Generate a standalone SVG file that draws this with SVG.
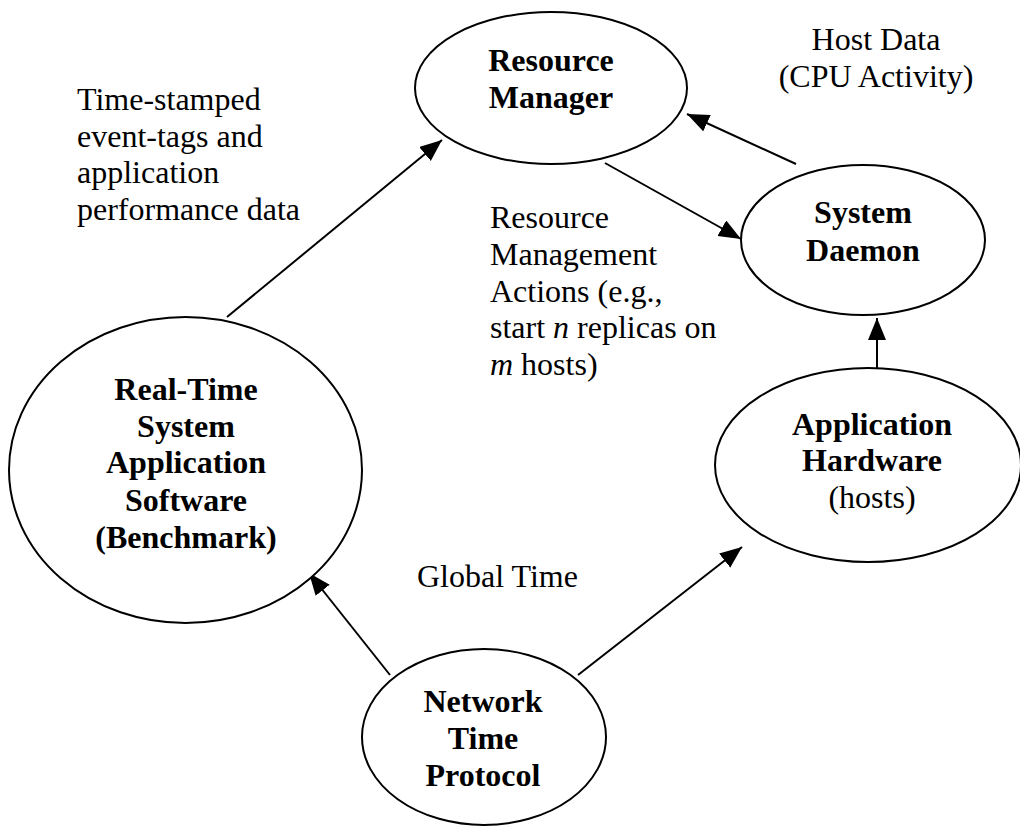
<svg xmlns="http://www.w3.org/2000/svg" width="1020" height="827" viewBox="0 0 1020 827">
  <style>
    .node { fill: #ffffff; stroke: #000000; stroke-width: 2; }
    .edge { stroke: #000000; stroke-width: 2; fill: none; marker-end: url(#arrow); }
    text { font-family: "Liberation Serif", "Times New Roman", serif; font-size: 32px; fill: #000000; }
    .title { font-weight: bold; text-anchor: middle; }
    .sub { text-anchor: middle; }
  </style>
  <defs>
    <marker id="arrow" markerUnits="userSpaceOnUse" markerWidth="24" markerHeight="20" refX="22" refY="9" orient="auto">
      <path d="M0,0 L22,9 L0,18 z" fill="#000000"/>
    </marker>
  </defs>
  <rect width="1020" height="827" fill="#ffffff"/>

  <!-- connectors -->
  <g id="connectors">
    <line class="edge" x1="227" y1="317" x2="442" y2="140"/>
    <line class="edge" x1="796" y1="164" x2="687" y2="114"/>
    <line class="edge" x1="605" y1="163" x2="741" y2="239"/>
    <line class="edge" x1="877" y1="368" x2="877" y2="318"/>
    <line class="edge" x1="390" y1="675" x2="309" y2="573"/>
    <line class="edge" x1="578" y1="675" x2="742" y2="547"/>
  </g>

  <!-- edge labels -->
  <g id="labels">
    <text x="77" y="110">Time-stamped</text>
    <text x="77" y="147">event-tags and</text>
    <text x="77" y="183">application</text>
    <text x="77" y="220">performance data</text>

    <text class="sub" x="876" y="50">Host Data</text>
    <text class="sub" x="876" y="87">(CPU Activity)</text>

    <text x="490" y="228">Resource</text>
    <text x="490" y="265">Management</text>
    <text x="490" y="302">Actions (e.g.,</text>
    <text x="490" y="338">start <tspan font-style="italic">n</tspan> replicas on</text>
    <text x="490" y="375"><tspan font-style="italic">m</tspan> hosts)</text>

    <text x="417" y="587">Global Time</text>
  </g>

  <g id="resource-manager">
    <ellipse class="node" cx="551" cy="88" rx="136" ry="76"/>
    <text class="title" x="551" y="71">Resource</text>
    <text class="title" x="551" y="108">Manager</text>
  </g>

  <g id="system-daemon">
    <ellipse class="node" cx="863" cy="240" rx="122" ry="75"/>
    <text class="title" x="863" y="223">System</text>
    <text class="title" x="863" y="261">Daemon</text>
  </g>

  <g id="application-hardware">
    <ellipse class="node" cx="868" cy="465" rx="153" ry="97"/>
    <text class="title" x="872" y="435">Application</text>
    <text class="title" x="872" y="471">Hardware</text>
    <text class="sub" x="872" y="508">(hosts)</text>
  </g>

  <g id="real-time-software">
    <ellipse class="node" cx="185.5" cy="470" rx="176.5" ry="153"/>
    <text class="title" x="186" y="400">Real-Time</text>
    <text class="title" x="186" y="437">System</text>
    <text class="title" x="186" y="473">Application</text>
    <text class="title" x="186" y="511">Software</text>
    <text class="title" x="186" y="548">(Benchmark)</text>
  </g>

  <g id="network-time-protocol">
    <ellipse class="node" cx="484" cy="737" rx="122" ry="88"/>
    <text class="title" x="483" y="712">Network</text>
    <text class="title" x="483" y="749">Time</text>
    <text class="title" x="483" y="786">Protocol</text>
  </g>
</svg>
